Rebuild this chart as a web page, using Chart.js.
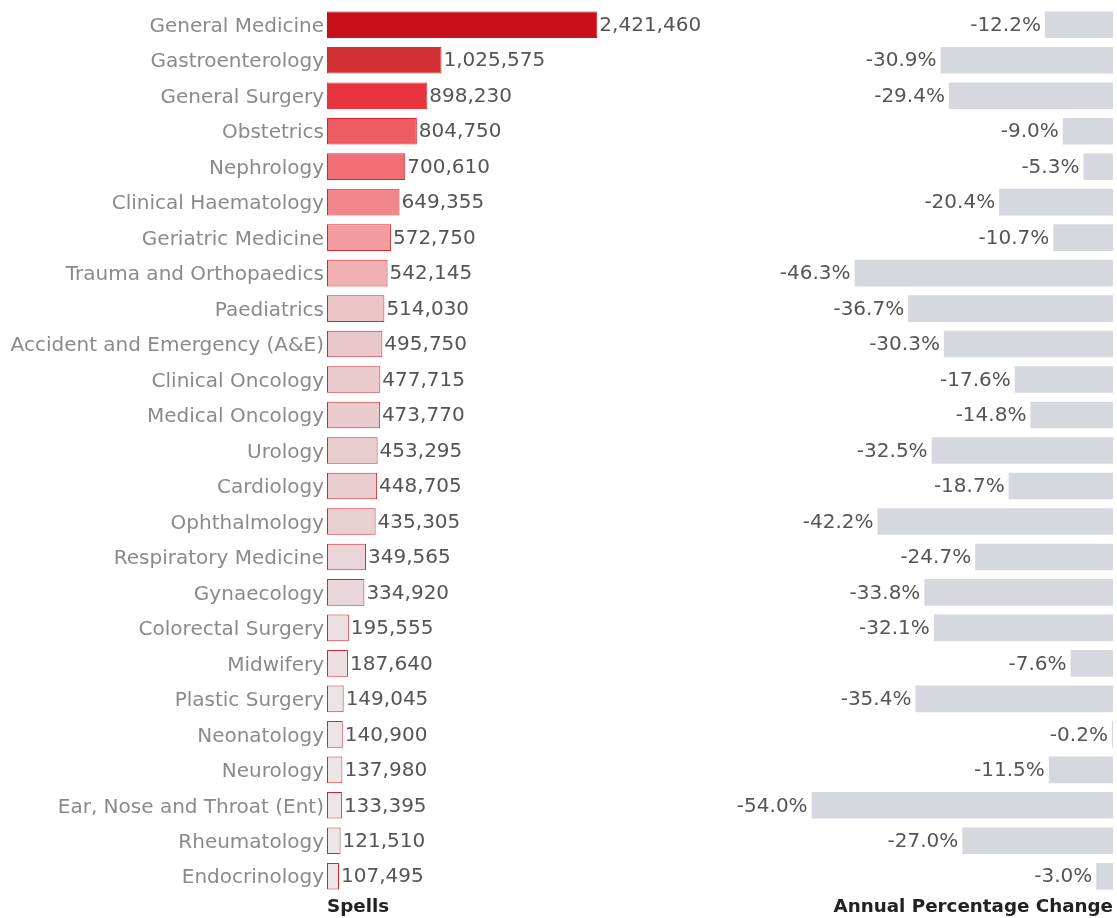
<!DOCTYPE html>
<html>
<head>
<meta charset="utf-8">
<script src="https://cdn.jsdelivr.net/npm/chart.js@4/dist/chart.umd.min.js"></script>
<style>
  html, body { margin: 0; padding: 0; background: #fff; }
  #wrap { position: relative; width: 1117px; height: 918px; overflow: hidden; }
  #spells-box { position: absolute; left: 0; top: 0; width: 720px; height: 918px; }
  #change-box { position: absolute; left: 700px; top: 0; width: 417px; height: 918px; }
</style>
</head>
<body>
<div id="wrap">
  <div id="spells-box"><canvas id="spells-chart"></canvas></div>
  <div id="change-box"><canvas id="change-chart"></canvas></div>
</div>
<script>
// Hospital spells by specialty, with the change on the previous year
const specialties = [
  'General Medicine', 'Gastroenterology', 'General Surgery', 'Obstetrics', 'Nephrology',
  'Clinical Haematology', 'Geriatric Medicine', 'Trauma and Orthopaedics', 'Paediatrics',
  'Accident and Emergency (A&E)', 'Clinical Oncology', 'Medical Oncology', 'Urology',
  'Cardiology', 'Ophthalmology', 'Respiratory Medicine', 'Gynaecology', 'Colorectal Surgery',
  'Midwifery', 'Plastic Surgery', 'Neonatology', 'Neurology', 'Ear, Nose and Throat (Ent)',
  'Rheumatology', 'Endocrinology'
];

const spells = [
  2421460, 1025575, 898230, 804750, 700610, 649355, 572750, 542145, 514030, 495750,
  477715, 473770, 453295, 448705, 435305, 349565, 334920, 195555, 187640, 149045,
  140900, 137980, 133395, 121510, 107495
];

const annualChange = [
  -12.2, -30.9, -29.4, -9.0, -5.3, -20.4, -10.7, -46.3, -36.7, -30.3,
  -17.6, -14.8, -32.5, -18.7, -42.2, -24.7, -33.8, -32.1, -7.6, -35.4,
  -0.2, -11.5, -54.0, -27.0, -3.0
];

// sequential red fill, darkest for the largest specialty
const spellColours = [
  '#c8101b', '#d13135', '#e8343f', '#ee5c64', '#f06e75', '#f2878b', '#f39da1',
  '#f2b0b3', '#eac4c7', '#e9c8cb', '#e9cacd', '#e9cbce', '#e9ccce', '#e9cdd0',
  '#e9cfd2', '#ead5d8', '#ead7da', '#ebe0e2', '#ebe1e3', '#ebe4e5', '#ebe5e6',
  '#ebe5e6', '#ebe6e7', '#ebe6e7', '#ebe7e8'
];
// the darkest bars carry no visible outline
const spellOutlines = spellColours.map((c, i) => (i < 3 ? c : '#d8242c'));

const FONT = '"DejaVu Sans", sans-serif';
const LABEL_GREY = '#8a8a8a';
const VALUE_GREY = '#555555';

// writes the value beside each bar
const barValues = {
  id: 'barValues',
  afterDatasetsDraw(chart, args, opts) {
    const ctx = chart.ctx;
    const meta = chart.getDatasetMeta(0);
    ctx.save();
    ctx.font = '20px ' + FONT;
    ctx.fillStyle = VALUE_GREY;
    ctx.textBaseline = 'middle';
    meta.data.forEach((bar, i) => {
      const v = chart.data.datasets[0].data[i];
      const text = opts.format(v);
      if (opts.side === 'right') {
        ctx.textAlign = 'left';
        ctx.fillText(text, bar.x + 2, bar.y + 1);
      } else {
        ctx.textAlign = 'right';
        ctx.fillText(text, bar.x - 4, bar.y + 1);
      }
    });
    ctx.restore();
  }
};

const hiddenGrid = { display: false, drawTicks: false };
const hiddenBorder = { display: false };

new Chart(document.getElementById('spells-chart'), {
  type: 'bar',
  data: {
    labels: specialties,
    datasets: [{
      data: spells,
      backgroundColor: spellColours,
      borderColor: spellOutlines,
      borderWidth: 1,
      borderSkipped: false,
      barPercentage: 0.75,
      categoryPercentage: 1
    }]
  },
  options: {
    indexAxis: 'y',
    responsive: true,
    maintainAspectRatio: false,
    animation: false,
    layout: { padding: { top: 7, right: 0, bottom: 0, left: 0 } },
    scales: {
      x: {
        min: 0,
        max: 3520000,
        grid: hiddenGrid,
        border: hiddenBorder,
        ticks: { display: false },
        title: {
          display: true,
          text: 'Spells',
          align: 'start',
          color: '#222222',
          padding: 0,
          font: { family: FONT, size: 18.3, weight: 'bold' }
        },
        afterFit(scale) { scale.height = 24; }
      },
      y: {
        grid: hiddenGrid,
        border: hiddenBorder,
        ticks: {
          color: LABEL_GREY,
          padding: 3,
          labelOffset: 2,
          font: { family: FONT, size: 20 }
        },
        afterFit(scale) {
          scale.width = 327;
          scale.paddingTop = 0;
          scale.paddingBottom = 0;
        }
      }
    },
    plugins: {
      legend: { display: false },
      tooltip: { enabled: false },
      barValues: { side: 'right', format: v => v.toLocaleString('en-GB') }
    }
  },
  plugins: [barValues]
});

new Chart(document.getElementById('change-chart'), {
  type: 'bar',
  data: {
    labels: specialties,
    datasets: [{
      data: annualChange,
      backgroundColor: '#d5d8df',
      borderWidth: 0,
      barPercentage: 0.75,
      categoryPercentage: 1
    }]
  },
  options: {
    indexAxis: 'y',
    responsive: true,
    maintainAspectRatio: false,
    animation: false,
    layout: { padding: { top: 7, right: 4, bottom: 0, left: 0 } },
    scales: {
      x: {
        min: -74,
        max: 0,
        grid: hiddenGrid,
        border: hiddenBorder,
        ticks: { display: false },
        title: {
          display: true,
          text: 'Annual Percentage Change',
          align: 'end',
          color: '#222222',
          padding: 0,
          font: { family: FONT, size: 18.3, weight: 'bold' }
        },
        afterFit(scale) { scale.height = 24; }
      },
      y: { display: false }
    },
    plugins: {
      legend: { display: false },
      tooltip: { enabled: false },
      barValues: { side: 'left', format: v => v.toFixed(1) + '%' }
    }
  },
  plugins: [barValues]
});
</script>
</body>
</html>
